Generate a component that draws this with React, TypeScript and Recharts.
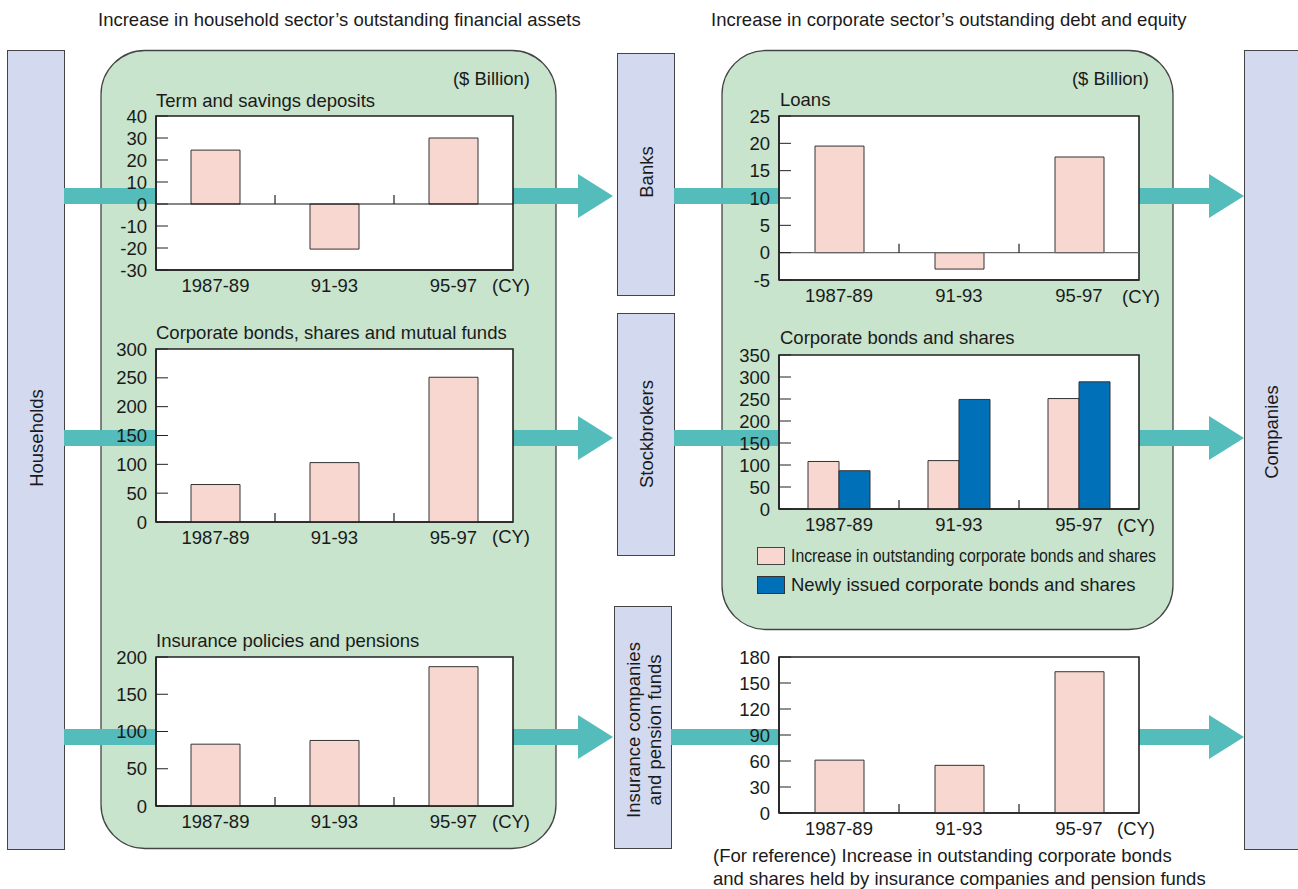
import React from 'react';
import { BarChart, Bar, XAxis, YAxis, CartesianGrid, ReferenceLine, ReferenceArea } from 'recharts';

const FONT = '"Liberation Sans", Arial, Helvetica, sans-serif';
const FS = 18.5;
const TEXT = '#1a1a1a';
const PINK = '#f9d7d1';
const BLUE = '#0071b9';
const GREEN = '#c8e4cd';
const LILAC = '#d3d9ee';
const TEAL = '#55bcbc';
const AXIS = '#222';

// ---- data ----
const periods = ['1987-89', '91-93', '95-97'];
const termSavingsDeposits = [24.5, -20.5, 30];
const bondsSharesFunds = [65, 103, 251];
const insurancePensions = [83, 88, 187];
const loans = [19.5, -3, 17.5];
const corpBondsIncrease = [108, 110, 251];
const corpBondsNewIssue = [87, 249, 289];
const insurerHoldings = [61, 55, 163];

const ticksTerm = [-30, -20, -10, 0, 10, 20, 30, 40];
const ticksBondsFunds = [0, 50, 100, 150, 200, 250, 300];
const ticksInsurance = [0, 50, 100, 150, 200];
const ticksLoans = [-5, 0, 5, 10, 15, 20, 25];
const ticksCorp = [0, 50, 100, 150, 200, 250, 300, 350];
const ticksHoldings = [0, 30, 60, 90, 120, 150, 180];

const YTick = (props: any) => {
  const { x, y, payload } = props;
  return (
    <g>
      <line x1={x + 9} x2={x + 21} y1={y} y2={y} stroke={AXIS} strokeWidth={1} />
      <text x={x} y={y} dy="0.36em" textAnchor="end" fontFamily={FONT} fontSize={FS} fill={TEXT}>
        {payload.value}
      </text>
    </g>
  );
};

const XTick = (props: any) => {
  const { x, y, payload } = props;
  return (
    <text x={x} y={y} dy={14} textAnchor="middle" fontFamily={FONT} fontSize={FS} fill={TEXT}>
      {payload.value}
    </text>
  );
};

const zeroShape = (n: number, drawLine: boolean, stroke: string) => (props: any) => {
  const x1 = Number(props.x1);
  const x2 = Number(props.x2);
  const y = Number(props.y1);
  const w = (x2 - x1) / n;
  return (
    <g>
      {drawLine && <line x1={x1} x2={x2} y1={y} y2={y} stroke={stroke} strokeWidth={1.2} />}
      {Array.from({ length: n - 1 }, (_, i) => (
        <line key={i} x1={x1 + w * (i + 1)} x2={x1 + w * (i + 1)} y1={y} y2={y - 9} stroke={AXIS} strokeWidth={1.2} />
      ))}
    </g>
  );
};

type Ser = { values: number[]; fill: string; barSize: number };

function MiniChart(p: {
  left: number; top: number; pw: number; ph: number;
  series: Ser[]; domain: [number, number]; ticks: number[];
  zeroLine: boolean; zeroStroke: string;
}) {
  const rows = periods.map((per, i) => {
    const r: any = { period: per };
    p.series.forEach((s, j) => { r['v' + j] = s.values[i]; });
    return r;
  });
  const axisLine = { stroke: AXIS, strokeWidth: 1.6 };
  return (
    <div style={{ position: 'absolute', left: p.left - 60, top: p.top - 10 }}>
      <BarChart
        width={p.pw + 70}
        height={p.ph + 40}
        data={rows}
        margin={{ top: 10, right: 10, bottom: 0, left: 0 }}
        barGap={0}
        barCategoryGap={0}
      >
        <CartesianGrid fill="#ffffff" horizontal={false} vertical={false} stroke="none" />
        <XAxis dataKey="period" height={30} tickLine={false} tickSize={0} tickMargin={8}
          axisLine={axisLine} tick={(t: any) => <XTick {...t} />} interval={0} />
        <YAxis type="number" domain={p.domain} ticks={p.ticks} width={60} tickLine={false}
          tickSize={0} tickMargin={9} interval={0} axisLine={axisLine}
          tick={(t: any) => <YTick {...t} />} allowDataOverflow />
        <ReferenceArea x1={periods[0]} x2={periods[periods.length - 1]} y1={p.domain[0]} y2={p.domain[1]}
          fill="none" fillOpacity={0} stroke={AXIS} strokeWidth={1.6} strokeOpacity={1} ifOverflow="visible" />
        <ReferenceLine y={0} ifOverflow="visible" shape={zeroShape(periods.length, p.zeroLine, p.zeroStroke)} />
        {p.series.map((s, j) => (
          <Bar key={j} dataKey={'v' + j} fill={s.fill} stroke="#333" strokeWidth={1}
            barSize={s.barSize} isAnimationActive={false} />
        ))}
      </BarChart>
    </div>
  );
}

const Arrow = ({ x1, x2, cy, head }: { x1: number; x2: number; cy: number; head: boolean }) => {
  if (!head) return <rect x={x1} y={cy - 8} width={x2 - x1} height={16} fill={TEAL} />;
  const hx = x2 - 35;
  return (
    <g>
      <rect x={x1} y={cy - 8} width={hx - x1 + 1} height={16} fill={TEAL} />
      <polygon points={`${hx},${cy - 22} ${x2},${cy} ${hx},${cy + 22}`} fill={TEAL} />
    </g>
  );
};

const T = (props: any) => (
  <text fontFamily={FONT} fontSize={FS} fill={TEXT} {...props} />
);

const Box = ({ x, y, w, h }: any) => (
  <rect x={x + 0.5} y={y + 0.5} width={w} height={h} fill={LILAC} stroke="#444" strokeWidth={1} />
);

const VText = ({ cx, cy, children }: any) => (
  <text x={cx} y={cy} transform={`rotate(-90 ${cx} ${cy})`} textAnchor="middle" dominantBaseline="central"
    fontFamily={FONT} fontSize={FS} fill={TEXT}>{children}</text>
);

export default function App() {
  return (
    <div style={{ position: 'absolute', left: 0, top: 0, width: 1298, height: 889, background: '#fff', overflow: 'hidden' }}>
      <svg width={1298} height={889} style={{ position: 'absolute', left: 0, top: 0 }}>
        <T x={98} y={26}>Increase in household sector’s outstanding financial assets</T>
        <T x={711} y={26}>Increase in corporate sector’s outstanding debt and equity</T>

        <rect x={101} y={50.5} width={455} height={798} rx={44} ry={44} fill={GREEN} stroke="#444" strokeWidth={1.3} />
        <rect x={722} y={50.5} width={451} height={579} rx={44} ry={44} fill={GREEN} stroke="#444" strokeWidth={1.3} />

        <Box x={7} y={50} w={57} h={799} />
        <Box x={617} y={53} w={57} h={242} />
        <Box x={617} y={313} w={57} h={242} />
        <Box x={614} y={606} w={57} h={242} />
        <Box x={1244} y={50} w={60} h={799} />

        <VText cx={36} cy={438}>Households</VText>
        <VText cx={646} cy={172}>Banks</VText>
        <VText cx={646} cy={434}>Stockbrokers</VText>
        <VText cx={633} cy={730}>Insurance companies</VText>
        <VText cx={654} cy={730}>and pension funds</VText>
        <VText cx={1271} cy={432}>Companies</VText>

        <Arrow x1={64} x2={157} cy={196} head={false} />
        <Arrow x1={513} x2={613} cy={196} head />
        <Arrow x1={674} x2={780} cy={196} head={false} />
        <Arrow x1={1139} x2={1244} cy={196} head />

        <Arrow x1={64} x2={157} cy={438} head={false} />
        <Arrow x1={513} x2={613} cy={438} head />
        <Arrow x1={674} x2={780} cy={438} head={false} />
        <Arrow x1={1139} x2={1244} cy={438} head />

        <Arrow x1={64} x2={157} cy={737} head={false} />
        <Arrow x1={513} x2={613} cy={737} head />
        <Arrow x1={671} x2={780} cy={737} head={false} />
        <Arrow x1={1139} x2={1244} cy={737} head />

        <T x={530} y={85} textAnchor="end">($ Billion)</T>
        <T x={1149} y={85} textAnchor="end">($ Billion)</T>

        <T x={156} y={107}>Term and savings deposits</T>
        <T x={156} y={339}>Corporate bonds, shares and mutual funds</T>
        <T x={156} y={647}>Insurance policies and pensions</T>
        <T x={780} y={106}>Loans</T>
        <T x={780} y={344}>Corporate bonds and shares</T>

        <T x={492} y={292}>(CY)</T>
        <T x={492} y={543}>(CY)</T>
        <T x={492} y={828}>(CY)</T>
        <T x={1122} y={303}>(CY)</T>
        <T x={1117} y={532}>(CY)</T>
        <T x={1117} y={835}>(CY)</T>

        <rect x={757.5} y={547.5} width={27} height={17} fill={PINK} stroke="#444" strokeWidth={1} />
        <T x={791} y={562} textLength={365} lengthAdjust="spacingAndGlyphs">Increase in outstanding corporate bonds and shares</T>
        <rect x={757.5} y={576.5} width={27} height={17} fill={BLUE} stroke="#333" strokeWidth={1} />
        <T x={791} y={591}>Newly issued corporate bonds and shares</T>

        <T x={713} y={862}>(For reference) Increase in outstanding corporate bonds</T>
        <T x={713} y={885}>and shares held by insurance companies and pension funds</T>
      </svg>

      <MiniChart left={156} top={116} pw={357} ph={154}
        series={[{ values: termSavingsDeposits, fill: PINK, barSize: 49 }]}
        domain={[-30, 40]} ticks={ticksTerm} zeroLine zeroStroke="#111" />
      <MiniChart left={156} top={349} pw={357} ph={173}
        series={[{ values: bondsSharesFunds, fill: PINK, barSize: 49 }]}
        domain={[0, 300]} ticks={ticksBondsFunds} zeroLine={false} zeroStroke={AXIS} />
      <MiniChart left={156} top={657} pw={357} ph={149}
        series={[{ values: insurancePensions, fill: PINK, barSize: 49 }]}
        domain={[0, 200]} ticks={ticksInsurance} zeroLine={false} zeroStroke={AXIS} />

      <MiniChart left={779} top={116} pw={360} ph={164}
        series={[{ values: loans, fill: PINK, barSize: 49 }]}
        domain={[-5, 25]} ticks={ticksLoans} zeroLine zeroStroke="#666" />
      <MiniChart left={779} top={355} pw={360} ph={154}
        series={[
          { values: corpBondsIncrease, fill: PINK, barSize: 31 },
          { values: corpBondsNewIssue, fill: BLUE, barSize: 31 },
        ]}
        domain={[0, 350]} ticks={ticksCorp} zeroLine={false} zeroStroke={AXIS} />
      <MiniChart left={779} top={657} pw={360} ph={156}
        series={[{ values: insurerHoldings, fill: PINK, barSize: 49 }]}
        domain={[0, 180]} ticks={ticksHoldings} zeroLine={false} zeroStroke={AXIS} />
    </div>
  );
}
